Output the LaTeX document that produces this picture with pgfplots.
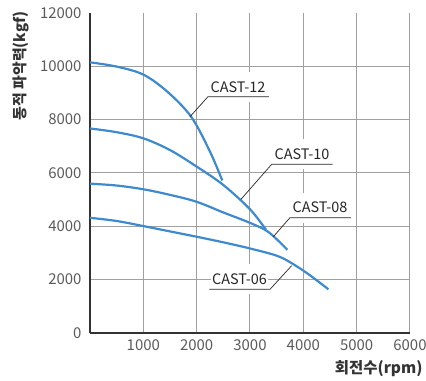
\documentclass[border=0pt]{standalone}
\usepackage{fontspec}
\setmainfont{Noto Sans CJK KR}
\usepackage{pgfplots}
\pgfplotsset{compat=1.18}
\definecolor{curve}{HTML}{3D8ACF}
\definecolor{gridc}{HTML}{A0A0A0}
\definecolor{tickc}{HTML}{5A5A5A}
\definecolor{labc}{HTML}{333333}
\begin{document}
\begin{tikzpicture}
\useasboundingbox (-90bp,-48bp) rectangle (336bp,333bp);
\begin{axis}[
  scale only axis, width=320bp, height=320bp,
  at={(0,0)}, anchor=south west,
  xmin=0, xmax=6000, ymin=0, ymax=12000,
  xtick={1000,2000,...,6000},
  ytick={0,2000,...,10000},
  extra y ticks={12000}, extra y tick style={grid=none},
  scaled y ticks=false, scaled x ticks=false,
  grid=major,
  major grid style={gridc, line width=1bp},
  major tick length=0pt,
  axis lines=left, axis line style={-, labc, line width=2bp},
  /pgf/number format/assume math mode=true,
  /pgf/number format/set thousands separator={},
  ticklabel style={font=\fontsize{15}{17}\selectfont, text=tickc},
  yticklabel style={xshift=-5bp},
  xticklabel style={yshift=-3bp},
  xlabel={\bfseries 회전수(rpm)},
  ylabel={\bfseries 동적 파악력(kgf)},
  xlabel style={at={(rel axis cs:1.05,-0.11)}, anchor=east, font=\fontsize{15.5}{17}\selectfont, text=labc},
  ylabel style={at={(rel axis cs:-0.215,0.835)}, anchor=center, rotate=0, font=\fontsize{15}{17}\selectfont, text=labc},
  clip=false,
]
\addplot[curve, line width=2.2bp, smooth, tension=0.55] coordinates {
 (0,10150) (500,9990) (1000,9690) (1450,9050) (1900,8100) (2250,6800) (2480,5720)};
\addplot[curve, line width=2.2bp, smooth, tension=0.55] coordinates {
 (0,7670) (500,7530) (1000,7300) (1500,6860) (2000,6240) (2500,5550) (3000,4640) (3300,3870)};
\addplot[curve, line width=2.2bp, smooth, tension=0.55] coordinates {
 (0,5600) (500,5530) (1000,5390) (1500,5180) (2000,4920) (2500,4520) (3000,4130) (3350,3780) (3700,3120)};
\addplot[curve, line width=2.2bp, smooth, tension=0.55] coordinates {
 (0,4320) (500,4200) (1000,4010) (1500,3810) (2000,3610) (2500,3400) (3000,3170) (3500,2900) (3780,2620) (4100,2200) (4470,1640)};
% labels
\node[fill=white, inner xsep=1bp, minimum height=30bp, font=\fontsize{14.5}{16}\selectfont, text=black!85] at (axis cs:2775,9225) {CAST-12};
\node[fill=white, inner xsep=1bp, minimum height=30bp, font=\fontsize{14.5}{16}\selectfont, text=black!85] at (axis cs:3975,6712) {CAST-10};
\node[fill=white, inner xsep=1bp, minimum height=30bp, font=\fontsize{14.5}{16}\selectfont, text=black!85] at (axis cs:4313,4700) {CAST-08};
\node[fill=white, inner xsep=1bp, minimum height=30bp, font=\fontsize{14.5}{16}\selectfont, text=black!85] at (axis cs:2803,2025) {CAST-06};
\draw[black!85, line width=0.7bp] (axis cs:1875,8112) -- (axis cs:2212,8862) -- (axis cs:3356,8862);
\draw[black!85, line width=0.7bp] (axis cs:2831,5013) -- (axis cs:3406,6325) -- (axis cs:4550,6325);
\draw[black!85, line width=0.7bp] (axis cs:3438,3612) -- (axis cs:3750,4325) -- (axis cs:4894,4325);
\draw[black!85, line width=0.7bp] (axis cs:3781,2525) -- (axis cs:3375,1637) -- (axis cs:2237,1637);
\end{axis}
\end{tikzpicture}
\end{document}
